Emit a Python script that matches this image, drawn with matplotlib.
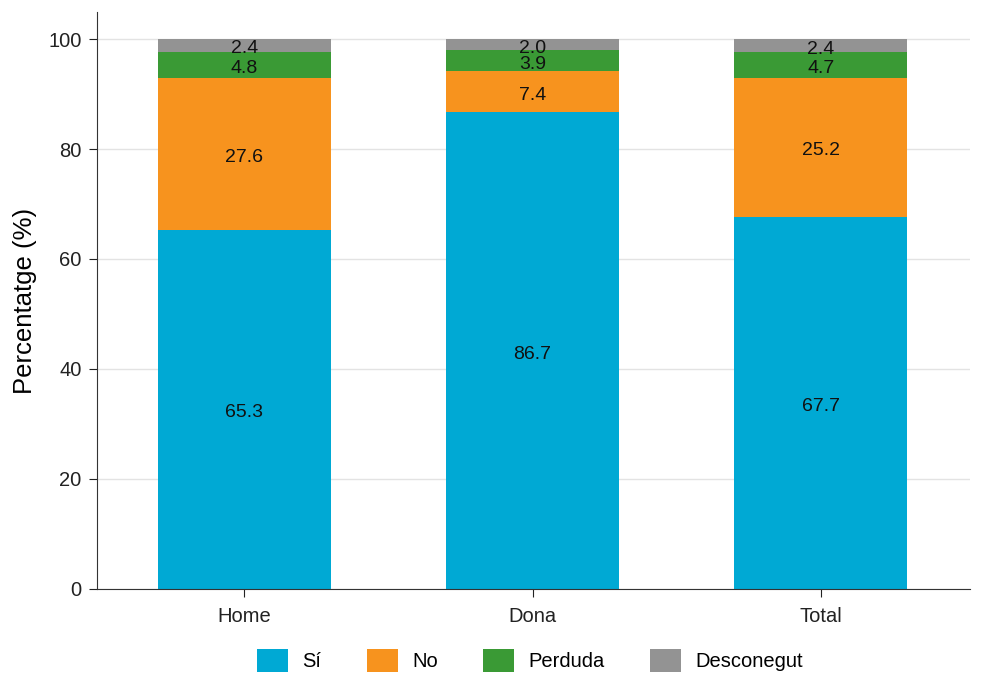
import numpy as np
import matplotlib.pyplot as plt

plt.rcParams['font.family'] = ['Liberation Sans', 'DejaVu Sans']

groups = ["Home", "Dona", "Total"]
series = ["Sí", "No", "Perduda", "Desconegut"]
si = [65.3, 86.7, 67.7]
no = [27.6, 7.4, 25.2]
perduda = [4.8, 3.9, 4.7]
desconegut = [2.4, 2.0, 2.4]
colors = ["#00A9D4", "#F7931E", "#3A9A35", "#939393"]

fig = plt.figure(figsize=(9.89, 6.73), dpi=100)
ax = fig.add_axes([0.098, 0.125, 0.883, 0.857])

x = np.arange(len(groups))
bottom = np.zeros(len(groups))
for name, vals, c in zip(series, [si, no, perduda, desconegut], colors):
    vals = np.array(vals)
    ax.bar(x, vals, 0.6, bottom=bottom, color=c, label=name, zorder=2)
    for xi, b, v in zip(x, bottom, vals):
        ax.annotate(f"{v:.1f}", (xi, b + v / 2), xytext=(0, -2.5), textcoords="offset points",
                    ha="center", va="center", fontsize=14, color="#111111", zorder=3)
    bottom += vals

ax.set_xlim(-0.512, 2.519)
ax.set_ylim(0, 104.9)
ax.set_yticks([0, 20, 40, 60, 80, 100])
ax.set_xticks(x)
ax.set_xticklabels(groups)
ax.tick_params(labelsize=14.5, colors="#222222", length=6, pad=5)
ax.tick_params(axis="x", pad=7)
ax.yaxis.grid(True, color="#e3e3e3", lw=1, zorder=0)
ax.set_ylabel("Percentatge (%)", fontsize=18.5, labelpad=8)
for s in ["top", "right"]:
    ax.spines[s].set_visible(False)
for s in ["left", "bottom"]:
    ax.spines[s].set_color("#333333")

fig.legend(loc="center", bbox_to_anchor=(0.536, 0.019), ncol=4, frameon=False, fontsize=14.5,
           handlelength=1.55, handleheight=1.4, columnspacing=2.25, handletextpad=0.7)

fig.savefig("out.png", dpi=100)
